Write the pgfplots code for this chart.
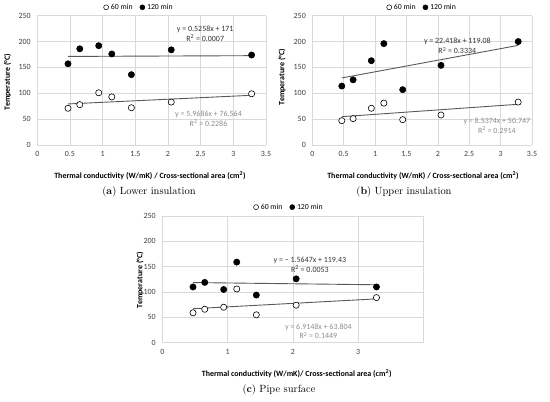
\documentclass[border=0pt]{standalone}
\usepackage{pgfplots}
\pgfplotsset{compat=1.18}
\usepackage{fontspec}
\newfontfamily\calfont{Carlito}
\pgfplotsset{
  myax/.style={
    scale only axis, clip=false,
    xmin=0, ymin=0, ymax=250, ytick={0,50,...,250},
    grid=major, grid style={draw=black!15, line width=0.6bp},
    axis line style={draw=none}, major tick length=0pt,
    ticklabel style={font=\calfont\fontsize{8}{9}\selectfont, text=black!75},
    xticklabel style={yshift=-3bp},
    yticklabel style={xshift=-3bp},
    /pgf/number format/assume math mode=true,
    legend columns=2,
    legend style={draw=none, fill=none, font=\calfont\fontsize{7.8}{9}\selectfont, inner sep=0pt, anchor=center,
      /tikz/every even column/.append style={column sep=5bp},
      /tikz/every odd column/.append style={column sep=0bp}},
  },
  myopen/.style={only marks, mark=*, mark size=3.1bp, mark options={fill=white, draw=black, line width=0.6bp},
    legend image code/.code={\draw[black, fill=white, line width=0.5bp] (2bp,0bp) circle (2.5bp);}},
  myfull/.style={only marks, mark=*, mark size=3.1bp, mark options={fill=black, draw=black, line width=0.6bp},
    legend image code/.code={\draw[black, fill=black, line width=0.5bp] (2bp,0bp) circle (2.5bp);}},
  mytrend/.style={no marks, draw=black!65, line width=0.9bp},
}
\tikzset{
  eqA/.style={font=\calfont\fontsize{8}{10}\selectfont, text=black!80, align=center},
  eqB/.style={font=\calfont\fontsize{8}{10}\selectfont, text=black!45, align=center},
  mylab/.style={font=\calfont\bfseries\fontsize{8}{9}\selectfont, text=black},
  mycap/.style={font=\fontsize{10.5}{12}\selectfont},
}
\begin{document}
\begin{tikzpicture}[x=1bp,y=1bp]
\useasboundingbox (0,0) rectangle (550,401);
% (a)
\begin{axis}[myax, at={(37.3bp,256bp)}, anchor=south west, width=228.7bp, height=129.3bp,
  xmax=3.5, xtick={0,0.5,...,3.5},
  legend style={at={(0.445,1.065)}}]
\addplot[myopen] coordinates {(0.47,71) (0.65,78) (0.94,101) (1.14,93) (1.44,72) (2.05,83) (3.28,99)};
\addlegendentry{60 min}
\addplot[myfull] coordinates {(0.47,157) (0.65,186) (0.94,192) (1.14,176) (1.44,136) (2.05,184) (3.28,174)};
\addlegendentry{120 min}
\addplot[mytrend, forget plot] coordinates {(0.47,79.37) (3.28,96.14)};
\addplot[mytrend, forget plot] coordinates {(0.47,171.25) (3.28,172.72)};
\node[eqA] at (axis cs:2.57,215.6) {y = 0.5258x + 171\\R\textsuperscript{2} = 0.0007};
\node[eqB] at (axis cs:2.62,50.5) {y = 5.9686x + 76.564\\R\textsuperscript{2} = 0.2286};
\end{axis}
% (b)
\begin{axis}[myax, at={(312.3bp,256bp)}, anchor=south west, width=219.7bp, height=129.3bp,
  xmax=3.5, xtick={0,0.5,...,3.5},
  legend style={at={(0.50,1.065)}}]
\addplot[myopen] coordinates {(0.47,47) (0.65,51) (0.94,71) (1.14,81) (1.44,49) (2.05,58) (3.28,83)};
\addlegendentry{60 min}
\addplot[myfull] coordinates {(0.47,114) (0.65,126) (0.94,163) (1.14,196) (1.44,107) (2.05,154) (3.28,200)};
\addlegendentry{120 min}
\addplot[mytrend, forget plot] coordinates {(0.47,54.76) (3.28,78.75)};
\addplot[mytrend, forget plot] coordinates {(0.47,129.62) (3.28,192.61)};
\node[eqA] at (axis cs:2.31,191) {y = 22.418x + 119.08\\R\textsuperscript{2} = 0.3334};
\node[eqB] at (axis cs:2.94,37) {y = 8.5374x + 50.747\\R\textsuperscript{2} = 0.2914};
\end{axis}
% (c)
\begin{axis}[myax, at={(162.3bp,58.3bp)}, anchor=south west, width=261.2bp, height=126.7bp,
  xmax=4, xtick={0,1,2,3,4}, xticklabels={0,1,2,3,},
  legend style={at={(0.485,1.07)}}]
\addplot[myopen] coordinates {(0.47,59) (0.65,66) (0.94,70) (1.14,106) (1.44,55) (2.05,74) (3.28,89)};
\addlegendentry{60 min}
\addplot[myfull] coordinates {(0.47,110) (0.65,119) (0.94,105) (1.14,159) (1.44,94) (2.05,126) (3.28,110)};
\addlegendentry{120 min}
\addplot[mytrend, forget plot] coordinates {(0.47,67.05) (3.28,86.48)};
\addplot[mytrend, forget plot] coordinates {(0.47,118.69) (3.28,114.30)};
\node[eqA] at (axis cs:2.26,153.3) {y = \textminus\ 1.5647x + 119.43\\R\textsuperscript{2} = 0.0053};
\node[eqB] at (axis cs:2.39,22.5) {y = 6.9148x + 63.804\\R\textsuperscript{2} = 0.1449};
\end{axis}
% labels
\node[mylab] at (150,225) {Thermal conductivity (W/mK) / Cross-sectional area (cm\textsuperscript{2})};
\node[mylab, rotate=90] at (7.5,319) {Temperature (\textdegree C)};
\node[mylab] at (423,225) {Thermal conductivity (W/mK) / Cross-sectional area (cm\textsuperscript{2})};
\node[mylab, rotate=90] at (282,324) {Temperature (\textdegree C)};
\node[mylab] at (296.7,27.7) {Thermal conductivity (W/mK)/ Cross-sectional area (cm\textsuperscript{2})};
\node[mylab, rotate=90] at (140,121) {Temperature (\textdegree C)};
\node[mycap] at (149,209) {(\textbf{a}) Lower insulation};
\node[mycap] at (404,209) {(\textbf{b}) Upper insulation};
\node[mycap] at (279,11) {(\textbf{c}) Pipe surface};
\end{tikzpicture}
\end{document}
